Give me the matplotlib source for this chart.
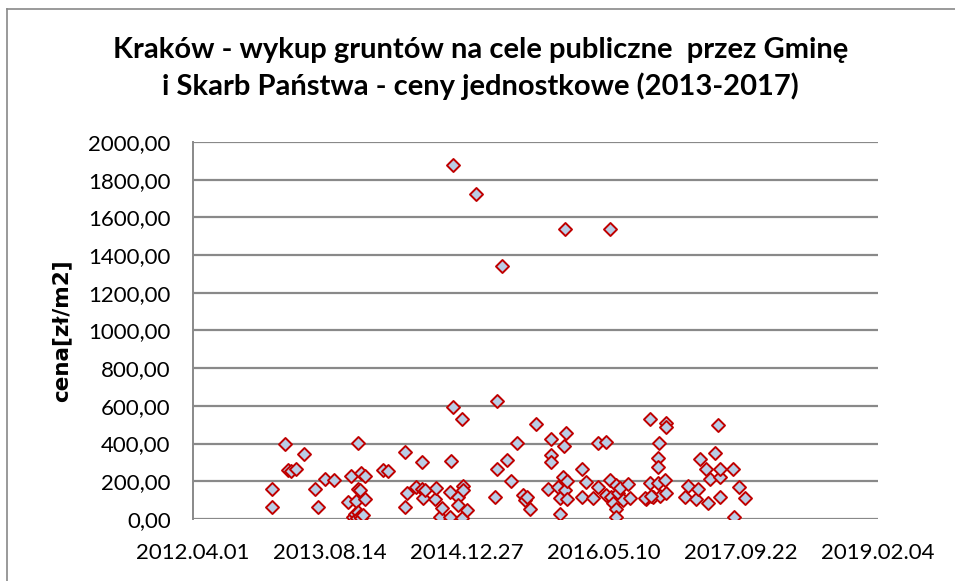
import datetime as dt
import matplotlib
matplotlib.use("Agg")
import matplotlib.pyplot as plt
import matplotlib.dates as mdates
from matplotlib.lines import Line2D
from matplotlib.ticker import FuncFormatter

# transaction dates and unit prices
dates = [
    "2013-01-13", "2013-01-13", "2013-03-03", "2013-03-15", "2013-03-25", "2013-04-14",
    "2013-05-12", "2013-06-20", "2013-06-30", "2013-07-27", "2013-08-30", "2013-10-20",
    "2013-11-01", "2013-11-19", "2013-11-23", "2013-11-25", "2013-12-01", "2013-12-04",
    "2013-12-22", "2013-12-20", "2013-11-07", "2013-11-14", "2013-11-20", "2013-11-25",
    "2013-12-02", "2013-12-07", "2013-12-12", "2014-02-25", "2014-03-15", "2014-05-15",
    "2014-05-15", "2014-05-21", "2014-06-26", "2014-07-15", "2014-07-15", "2014-07-21",
    "2014-07-27", "2014-09-01", "2014-09-07", "2014-09-19", "2014-09-26", "2014-10-26",
    "2014-10-26", "2014-11-01", "2014-11-05", "2014-11-05", "2014-11-25", "2014-11-25",
    "2014-12-08", "2014-12-08", "2014-12-14", "2014-12-14", "2014-12-26", "2015-01-31",
    "2015-04-08", "2015-04-17", "2015-04-17", "2015-05-03", "2015-05-21", "2015-06-08",
    "2015-06-30", "2015-07-20", "2015-07-27", "2015-08-02", "2015-08-14", "2015-09-05",
    "2015-10-20", "2015-11-01", "2015-11-01", "2015-11-01", "2015-11-25", "2015-12-01",
    "2015-12-04", "2015-12-14", "2015-12-17", "2015-12-20", "2015-12-20", "2015-12-23",
    "2015-12-26", "2015-12-26", "2016-02-19", "2016-02-19", "2016-03-08", "2016-04-01",
    "2016-04-19", "2016-04-19", "2016-05-20", "2016-05-20", "2016-06-01", "2016-06-03",
    "2016-06-07", "2016-06-13", "2016-06-25", "2016-06-25", "2016-06-25", "2016-07-01",
    "2016-07-07", "2016-07-20", "2016-08-07", "2016-08-13", "2016-10-13", "2016-10-25",
    "2016-10-25", "2016-11-06", "2016-11-24", "2016-11-29", "2016-11-24", "2016-11-24",
    "2016-11-30", "2016-12-19", "2016-12-22", "2016-12-25", "2016-12-25", "2016-10-07",
    "2016-10-31", "2017-03-02", "2017-03-14", "2017-04-13", "2017-04-19", "2017-04-25",
    "2017-05-17", "2017-05-26", "2017-06-01", "2017-06-19", "2017-07-01", "2017-07-07",
    "2017-07-07", "2017-07-10", "2017-08-25", "2017-08-29", "2017-09-16", "2017-10-07",
]
prices = [
    160, 65, 400, 260, 255, 265,
    343, 159, 65, 210, 207, 92,
    230, 97, 402, 158, 154, 242,
    228, 106, 10, 25, 5, 35,
    15, 5, 20, 260, 256, 357,
    65, 136, 171, 301, 158, 110,
    154, 104, 163, 12, 57, 145,
    12, 308, 596, 1878, 118, 74,
    529, 4, 175, 154, 48, 1724,
    115, 626, 264, 1344, 313, 203,
    402, 127, 101, 115, 53, 504,
    158, 424, 340, 301, 171, 113,
    25, 224, 387, 1537, 154, 455,
    203, 104, 264, 115, 198, 110,
    405, 171, 410, 127, 207, 1537,
    118, 86, 180, 51, 9, 136,
    163, 101, 186, 110, 104, 189,
    529, 115, 189, 402, 322, 277,
    122, 207, 136, 511, 490, 110,
    122, 115, 175, 104, 158, 317,
    264, 86, 211, 352, 499, 224,
    115, 264, 264, 12, 168, 110,
]

start = dt.date(2012, 4, 1)
tick_dates = [start + dt.timedelta(days=500 * k) for k in range(6)]
y_ticks = list(range(0, 2001, 200))

title = "Kraków - wykup gruntów na cele publiczne  przez Gminę\ni Skarb Państwa - ceny jednostkowe (2013-2017)"
y_label = "cena[zł/m2]"

x = [dt.datetime.strptime(d, "%Y-%m-%d").date() for d in dates]

fig = plt.figure(figsize=(9.55, 5.81), dpi=100)
ax = fig.add_axes([0.202, 0.1067, 0.717, 0.649])

ax.scatter(x, prices, marker="D", s=44, facecolor="#B9CDE5",
           edgecolor="#C00000", linewidth=1.4, zorder=3)

ax.set_xlim(tick_dates[0], tick_dates[-1])
ax.set_ylim(0, 2000)
ax.set_xticks(tick_dates)
ax.xaxis.set_major_formatter(mdates.DateFormatter("%Y.%m.%d"))
ax.set_yticks(y_ticks)
ax.yaxis.set_major_formatter(FuncFormatter(lambda v, p: f"{v:.2f}".replace(".", ",")))

ax.grid(axis="y", color="#898989", linewidth=1.6, zorder=0)
for side in ["top", "right", "bottom"]:
    ax.spines[side].set_visible(False)
ax.spines["left"].set_color("#898989")
ax.spines["left"].set_linewidth(1.4)
ax.tick_params(length=0, labelsize=16, colors="black")
ax.tick_params(axis="y", pad=16)
ax.tick_params(axis="x", pad=17)
for lbl in ax.get_xticklabels() + ax.get_yticklabels():
    lbl.set_fontfamily("Lato")

ax.set_ylabel(y_label, fontsize=15.5, fontweight="bold", family="DejaVu Sans")
ax.yaxis.set_label_coords(-0.178, 0.5)

fig.text(0.503, 0.882, title, ha="center", va="center", fontsize=21,
         fontweight="bold", family="Lato", linespacing=1.4)

# outer chart border (left and top edges visible in the crop)
fig.add_artist(Line2D([0.0075, 0.0075], [0.0, 0.985], transform=fig.transFigure,
                      color="#898989", linewidth=1.2))
fig.add_artist(Line2D([0.0075, 1.0], [0.985, 0.985], transform=fig.transFigure,
                      color="#898989", linewidth=1.2))

fig.savefig("out.png", dpi=100)
